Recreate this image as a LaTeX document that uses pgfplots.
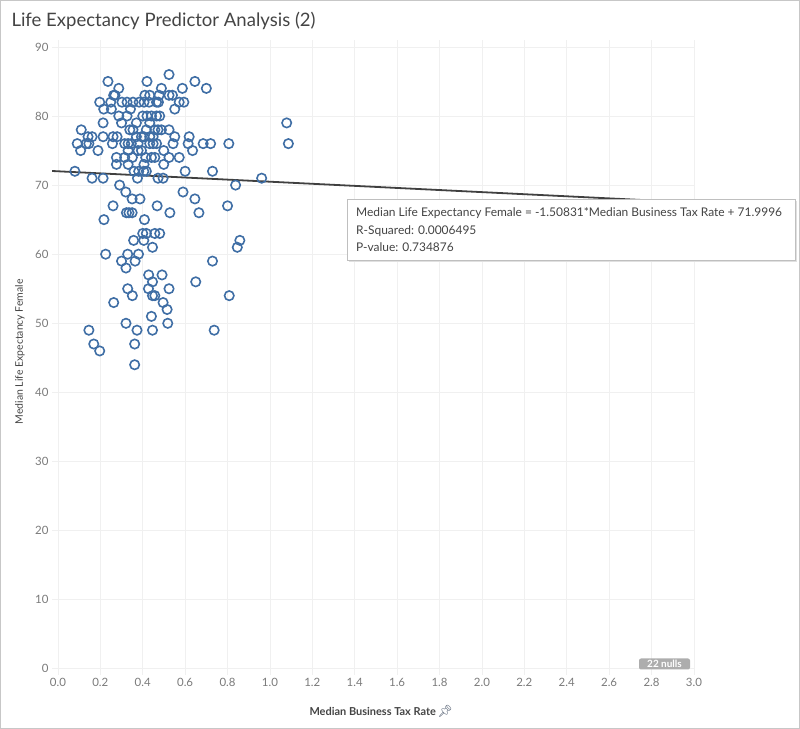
\documentclass[border=0pt]{standalone}
\usepackage{fontspec}
\setmainfont{Lato}
\newfontfamily\emojifont{Noto Emoji}
\usepackage{pgfplots}
\pgfplotsset{compat=1.18}
\definecolor{markblue}{HTML}{3F6EA5}
\definecolor{tickgray}{HTML}{7A7A7A}
\definecolor{textdark}{HTML}{444444}
\definecolor{pingray}{HTML}{4F5B6E}

\begin{document}
\begin{tikzpicture}
\path[use as bounding box] (0,0) rectangle (800bp,729bp);
\draw[black!22, line width=1bp] (0.5bp,0.5bp) rectangle (799.5bp,728.5bp);

\node[anchor=base west, font=\fontsize{18.6}{20}\selectfont, text=textdark] at (8bp,702bp)
  {Life Expectancy Predictor Analysis (2)};

\begin{axis}[
    at={(52bp,54bp)}, anchor=south west,
    scale only axis,
    width=643bp, height=635bp,
    xmin=-0.028, xmax=3.005,
    ymin=-0.9, ymax=91,
    xtick={0,0.2,0.4,0.6,0.8,1.0,1.2,1.4,1.6,1.8,2.0,2.2,2.4,2.6,2.8,3.0},
    ytick={0,10,20,30,40,50,60,70,80,90},
    xticklabel style={/pgf/number format/.cd, fixed, fixed zerofill, precision=1},
    /pgf/number format/assume math mode=true,
    grid=major,
    grid style={draw=black!6, line width=0.8bp},
    axis line style={draw=none},
    tick style={draw=none},
    tick label style={font=\fontsize{11.5}{13}\selectfont, text=tickgray},
    xlabel={Median Business Tax Rate\,{\emojifont\color{pingray}\fontsize{12}{12}\selectfont 📌}},
    xlabel style={at={(axis description cs:0.512,-0.057)}, anchor=center,
                  font=\bfseries\fontsize{11}{13}\selectfont, text=textdark},
    ylabel={Median Life Expectancy Female},
    ylabel style={at={(axis description cs:-0.05,0.509)}, anchor=center,
                  font=\fontsize{10.5}{12}\selectfont, text=textdark},
]
\addplot[only marks, mark=o, mark size=4.7bp,
         mark options={line width=1.6bp, draw=markblue}] coordinates {
 (0.236,85) (0.42,85) (0.646,85)
 (0.524,86)
 (0.287,84) (0.587,84) (0.488,84) (0.70,84)
 (0.263,83) (0.269,83) (0.41,83) (0.433,83) (0.477,83) (0.524,83) (0.54,83)
 (0.197,82) (0.249,82) (0.302,82) (0.326,82) (0.354,82) (0.383,82) (0.406,82)
 (0.43,82) (0.465,82) (0.474,82) (0.572,82) (0.594,82)
 (0.216,81) (0.252,81) (0.342,81) (0.551,81)
 (0.287,80) (0.326,80) (0.40,80) (0.42,80) (0.441,80) (0.465,80) (0.48,80)
 (0.213,79) (0.30,79) (0.37,79) (0.433,79) (1.079,79)
 (0.11,78) (0.339,78) (0.354,78) (0.417,78) (0.457,78) (0.472,78) (0.488,78) (0.524,78)
 (0.142,77) (0.161,77) (0.213,77) (0.26,77) (0.279,77) (0.37,77) (0.394,77)
 (0.405,77) (0.433,77) (0.449,77) (0.551,77) (0.619,77)
 (0.091,76) (0.134,76) (0.146,76) (0.257,76) (0.315,76) (0.331,76) (0.346,76)
 (0.378,76) (0.433,76) (0.449,76) (0.465,76) (0.543,76) (0.614,76) (0.685,76)
 (0.72,76) (0.806,76) (1.087,76)
 (0.107,75) (0.189,75) (0.331,75) (0.378,75) (0.394,75) (0.499,75) (0.635,75)
 (0.276,74) (0.315,74) (0.351,74) (0.414,74) (0.441,74) (0.457,74) (0.524,74) (0.572,74)
 (0.276,73) (0.331,73) (0.406,73) (0.499,73)
 (0.08,72) (0.359,72) (0.381,72) (0.405,72) (0.417,72) (0.60,72) (0.729,72)
 (0.161,71) (0.213,71) (0.375,71) (0.472,71) (0.496,71) (0.961,71)
 (0.291,70) (0.838,70)
 (0.32,69) (0.59,69)
 (0.35,68) (0.387,68) (0.646,68)
 (0.26,67) (0.468,67) (0.80,67)
 (0.323,66) (0.335,66) (0.35,66) (0.528,66) (0.665,66)
 (0.217,65) (0.408,65)
 (0.40,63) (0.417,63) (0.457,63) (0.48,63)
 (0.357,62) (0.405,62) (0.858,62)
 (0.446,61) (0.846,61)
 (0.225,60) (0.329,60) (0.38,60)
 (0.30,59) (0.364,59) (0.729,59)
 (0.321,58)
 (0.428,57) (0.491,57)
 (0.446,56) (0.65,56)
 (0.329,55) (0.427,55) (0.524,55)
 (0.351,54) (0.446,54) (0.457,54) (0.808,54)
 (0.263,53) (0.496,53)
 (0.515,52)
 (0.441,51)
 (0.321,50) (0.518,50)
 (0.146,49) (0.373,49) (0.446,49) (0.737,49)
 (0.169,47) (0.362,47)
 (0.197,46)
 (0.362,44)
};
% trend line: y = -1.50831 x + 71.9996
\addplot[no marks, line width=1.8bp, color=black!75] coordinates {
 (-0.028,72.042) (3.005,67.467)
};
\end{axis}

% tooltip with the trend line model
\fill[black!12] (349bp,467bp) rectangle (797bp,528bp);
\draw[fill=white, draw=black!25, line width=0.8bp] (347bp,469bp) rectangle (795bp,530bp);
\begin{scope}[every node/.style={anchor=base west, inner sep=0pt,
    font=\fontsize{12}{14}\selectfont, text=textdark}]
\node at (356bp,512bp) {Median Life Expectancy Female = -1.50831*Median Business Tax Rate + 71.9996};
\node at (356bp,494bp) {R-Squared: 0.0006495};
\node at (356bp,477bp) {P-value: 0.734876};
\end{scope}

% null indicator
\node[fill=black!32, rounded corners=2bp, text=white, inner sep=0pt,
      minimum width=51bp, minimum height=11bp,
      font=\bfseries\fontsize{10}{10}\selectfont] at (664.5bp,65bp) {22 nulls};
\end{tikzpicture}
\end{document}
